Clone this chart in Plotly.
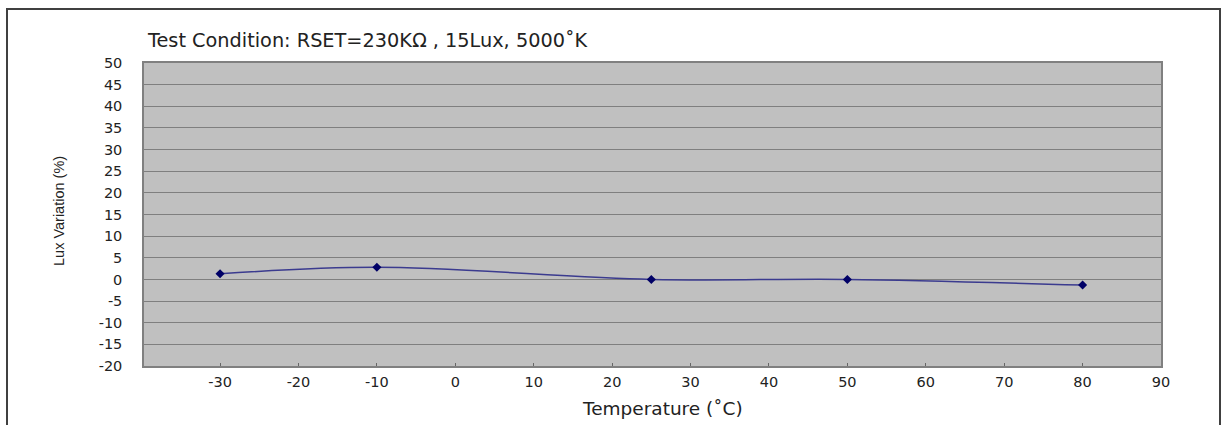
import plotly.graph_objects as go

# Data
temperature = [-30, -10, 25, 50, 80]
lux_variation = [1.3, 2.8, 0.0, 0.0, -1.3]
x_ticks = [-30, -20, -10, 0, 10, 20, 30, 40, 50, 60, 70, 80, 90]
x_labels = ["-30", "-20", "-10", "0", "10", "20", "30", "40", "50", "60", "70", "80", "90"]
y_ticks = [-20, -15, -10, -5, 0, 5, 10, 15, 20, 25, 30, 35, 40, 45, 50]
y_labels = ["-20", "-15", "-10", "-5", "0", "5", "10", "15", "20", "25", "30", "35", "40", "45", "50"]

W, H = 1222, 425
L, R, T, B = 144, 61, 63, 59
pw, ph = W - L - R, H - T - B

def px_x(p):
    return (p - L) / pw

def px_y(p):
    return (H - B - p) / ph

WIDE = "DejaVu Sans, Verdana, sans-serif"

fig = go.Figure()
fig.add_trace(go.Scatter(
    x=temperature, y=lux_variation,
    mode="lines+markers",
    line=dict(color="#3b3b8f", width=1.5, shape="spline", smoothing=1.0),
    marker=dict(symbol="diamond", size=7, color="#000066"),
    showlegend=False,
))

fig.update_layout(
    width=W, height=H,
    margin=dict(l=L, r=R, t=T, b=B),
    paper_bgcolor="white",
    plot_bgcolor="#c0c0c0",
    font=dict(family=WIDE, color="#222222", size=14),
    xaxis=dict(
        range=[-39.7, 90], tickvals=x_ticks, ticktext=x_labels,
        showgrid=False, zeroline=False,
        ticks="inside", ticklen=3, tickcolor="#666666",
        showline=True, linecolor="#808080", linewidth=1.5, mirror=True,
        tickfont=dict(size=14.5, color="#222222", family=WIDE),
        ticklabelstandoff=2,
    ),
    yaxis=dict(
        range=[-20, 50], tickvals=y_ticks, ticktext=y_labels,
        showgrid=True, gridcolor="#7f7f7f",
        gridwidth=1.2, zeroline=False, ticks="", ticklabelstandoff=17,
        showline=True, linecolor="#808080", linewidth=1.5, mirror=True,
        tickfont=dict(size=14.5, color="#222222", family=WIDE),
    ),
    shapes=[dict(
        type="rect", xref="paper", yref="paper",
        x0=px_x(7), x1=px_x(1220), y0=px_y(440), y1=px_y(9),
        line=dict(color="#404040", width=2), fillcolor="rgba(0,0,0,0)", layer="below",
    )],
    annotations=[
        dict(text="Test Condition: RSET=230K\u2126 , 15Lux, 5000\u02daK",
             xref="paper", yref="paper", x=px_x(145), y=px_y(40),
             xanchor="left", yanchor="middle", showarrow=False,
             font=dict(size=19.3, color="#222222", family=WIDE)),
        dict(text="Temperature (\u02daC)",
             xref="paper", yref="paper", x=px_x(662), y=px_y(408),
             xanchor="center", yanchor="middle", showarrow=False,
             font=dict(size=18.5, color="#222222", family=WIDE)),
        dict(text="Lux Variation (%)", textangle=-90,
             xref="paper", yref="paper", x=px_x(59), y=px_y(211),
             xanchor="center", yanchor="middle", showarrow=False,
             font=dict(size=14.5, color="#222222",
                       family="Liberation Sans Narrow, Arial Narrow, Liberation Sans, sans-serif")),
    ],
)

fig.write_html(
    "out.html",
    config={"displayModeBar": False},
    post_script="document.body.style.margin='0';document.body.style.overflow='hidden';",
)
